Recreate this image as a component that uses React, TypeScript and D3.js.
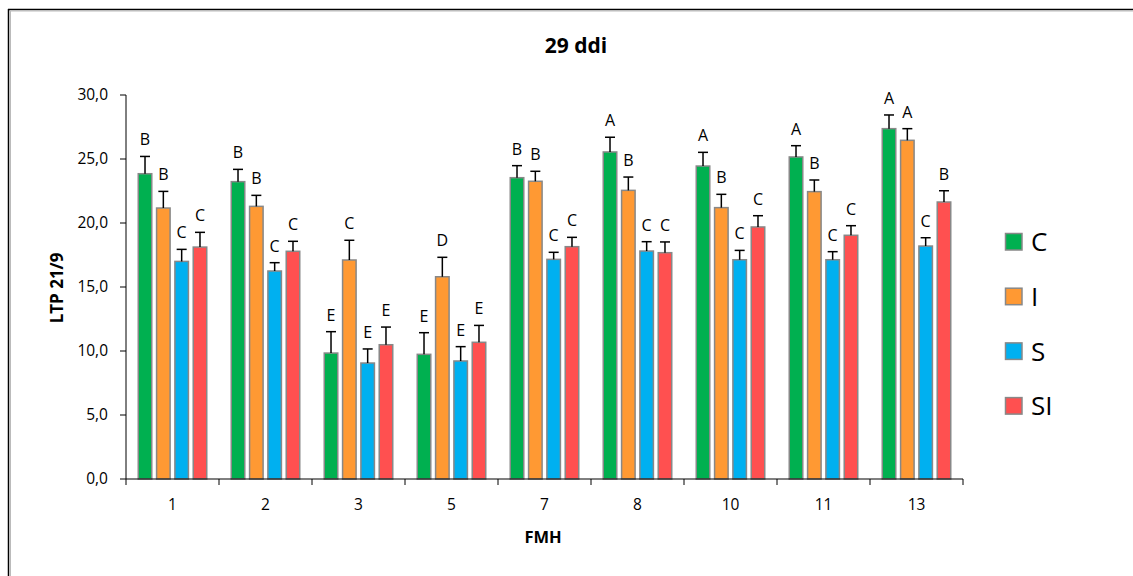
import React from "react";
import * as d3 from "d3";

const categories = ["1", "2", "3", "5", "7", "8", "10", "11", "13"];
const seriesNames = ["C", "I", "S", "SI"];
const seriesColors = ["#00b050", "#ff9933", "#00b0f0", "#ff5050"];

const valuesC = [23.85, 23.23, 9.84, 9.74, 23.54, 25.55, 24.45, 25.16, 27.37];
const valuesI = [21.17, 21.3, 17.11, 15.8, 23.26, 22.55, 21.2, 22.45, 26.46];
const valuesS = [17.0, 16.25, 9.06, 9.22, 17.16, 17.81, 17.13, 17.13, 18.2];
const valuesSI = [18.12, 17.79, 10.49, 10.68, 18.15, 17.68, 19.69, 19.04, 21.64];

const errC = [1.35, 0.96, 1.67, 1.69, 0.94, 1.15, 1.07, 0.88, 1.07];
const errI = [1.3, 0.86, 1.54, 1.52, 0.78, 1.04, 1.04, 0.91, 0.91];
const errS = [0.94, 0.65, 1.1, 1.12, 0.55, 0.73, 0.73, 0.63, 0.65];
const errSI = [1.15, 0.78, 1.38, 1.32, 0.73, 0.84, 0.88, 0.75, 0.88];

const lettersC = ["B", "B", "E", "E", "B", "A", "A", "A", "A"];
const lettersI = ["B", "B", "C", "D", "B", "B", "B", "B", "A"];
const lettersS = ["C", "C", "E", "E", "C", "C", "C", "C", "C"];
const lettersSI = ["C", "C", "E", "E", "C", "C", "C", "C", "B"];

const yTicks = [0, 5, 10, 15, 20, 25, 30];

const title = "29 ddi";
const yLabel = "LTP 21/9";
const xLabel = "FMH";

const allValues = [valuesC, valuesI, valuesS, valuesSI];
const allErr = [errC, errI, errS, errSI];
const allLetters = [lettersC, lettersI, lettersS, lettersSI];

const W = 1133;
const H = 576;
const FONT = "'Open Sans', sans-serif";

export default function App() {
  const x0 = d3.scaleBand().domain(categories).range([126, 963]).paddingInner(0).paddingOuter(0);
  const x1 = d3.scaleBand().domain(seriesNames).range([-35, 35]).paddingInner(0.18).paddingOuter(0);
  const y = d3.scaleLinear().domain([0, 30]).range([479, 95]);
  const fmt = (v: number) => d3.format(".1f")(v).replace(".", ",");
  const bw = x1.bandwidth();
  const boundaries = [...categories.map((c) => x0(c) as number), x0.range()[1]];

  return (
    <svg
      width={W}
      height={H}
      style={{ position: "absolute", left: 0, top: 0, background: "#fff" }}
      fontFamily={FONT}
    >
      <rect x={0} y={0} width={W} height={H} fill="#fff" />
      {/* outer border */}
      <line x1={8.5} y1={9} x2={8.5} y2={H} stroke="#000" strokeWidth={1.5} />
      <line x1={8} y1={9.5} x2={W} y2={9.5} stroke="#000" strokeWidth={1.5} />
      <line x1={10} y1={11} x2={W} y2={11} stroke="#bbb" strokeWidth={1} />
      <line x1={10.5} y1={11} x2={10.5} y2={H} stroke="#bbb" strokeWidth={1} />

      <text x={576} y={53} textAnchor="middle" fontSize={21} fontWeight="bold" fill="#000">
        {title}
      </text>

      {/* y axis */}
      <line x1={126} y1={y(30)} x2={126} y2={y(0)} stroke="#000" strokeWidth={1} />
      {yTicks.map((t) => (
        <g key={t}>
          <line x1={120} x2={126} y1={y(t)} y2={y(t)} stroke="#000" strokeWidth={1} />
          <text x={108} y={y(t)} dy="0.35em" textAnchor="end" fontSize={15.5} fill="#000">
            {fmt(t)}
          </text>
        </g>
      ))}
      <text
        transform={`translate(63,288) rotate(-90)`}
        textAnchor="middle"
        fontSize={17}
        fontWeight="bold"
        fill="#000"
      >
        {yLabel}
      </text>

      {/* bars */}
      {categories.map((c, ci) => {
        const cx = (x0(c) as number) + x0.bandwidth() / 2;
        return (
          <g key={c}>
            {seriesNames.map((s, si) => {
              const v = allValues[si][ci];
              const e = allErr[si][ci];
              const bx = cx + (x1(s) as number);
              const mid = bx + bw / 2;
              const top = y(v);
              const eTop = y(v + e);
              return (
                <g key={s}>
                  <rect
                    x={bx + 0.75}
                    y={top}
                    width={bw - 1.5}
                    height={y(0) - top}
                    fill={seriesColors[si]}
                    stroke="#888"
                    strokeWidth={1.5}
                  />
                  <line x1={mid} x2={mid} y1={top} y2={eTop} stroke="#000" strokeWidth={1.5} />
                  <line x1={mid - 5} x2={mid + 5} y1={eTop} y2={eTop} stroke="#000" strokeWidth={1.5} />
                  <text x={mid} y={eTop - 11} textAnchor="middle" fontSize={16} fill="#000">
                    {allLetters[si][ci]}
                  </text>
                </g>
              );
            })}
          </g>
        );
      })}

      {/* x axis */}
      <line x1={126} x2={963} y1={y(0)} y2={y(0)} stroke="#000" strokeWidth={1} />
      {boundaries.map((b, i) => (
        <line key={i} x1={b} x2={b} y1={y(0)} y2={y(0) + 6} stroke="#000" strokeWidth={1} />
      ))}
      {categories.map((c) => (
        <text
          key={c}
          x={(x0(c) as number) + x0.bandwidth() / 2}
          y={510}
          textAnchor="middle"
          fontSize={15.5}
          fill="#000"
        >
          {c}
        </text>
      ))}
      <text x={543} y={543} textAnchor="middle" fontSize={16.5} fontWeight="bold" fill="#000">
        {xLabel}
      </text>

      {/* legend */}
      {seriesNames.map((s, si) => {
        const ly = 242 + si * 54.7;
        return (
          <g key={s}>
            <rect
              x={1005.5}
              y={ly - 8.5}
              width={16.5}
              height={16.5}
              fill={seriesColors[si]}
              stroke="#888"
              strokeWidth={1.5}
            />
            <text x={1031} y={ly} dy="0.36em" fontSize={26} fill="#000">
              {s}
            </text>
          </g>
        );
      })}
    </svg>
  );
}
